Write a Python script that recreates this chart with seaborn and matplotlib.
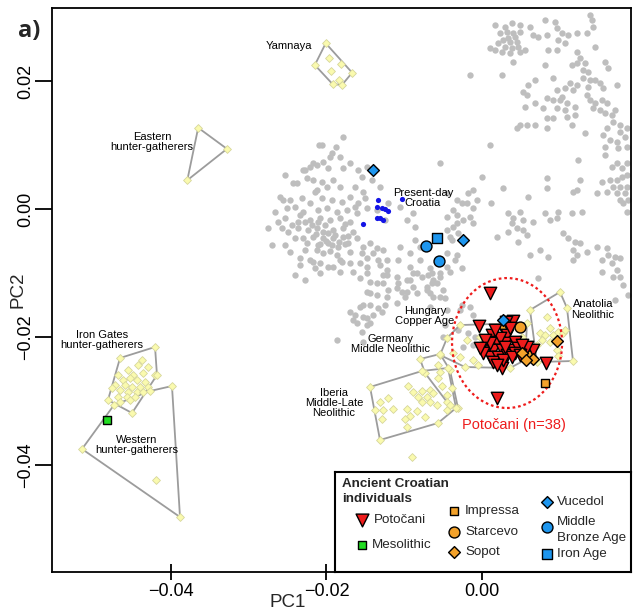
import numpy as np
import pandas as pd
import matplotlib
matplotlib.use("Agg")
import matplotlib.pyplot as plt
import seaborn as sns
from matplotlib.patches import Ellipse

# ---------------- data (PC1, PC2 values in units of 1e-3) ----------------
UNIT = 1e-3

modern_gray = [
(-19.55,8.13),(-20.45,7.34),(-21.22,6.88),(-22.12,6.56),(-23.02,6.09),(-19.80,6.41),(-18.26,8.13),(-25.33,5.31),(-23.79,4.06),(-22.51,4.84),(-20.58,4.22),(-19.16,4.53),(-19.93,3.44),(-18.26,3.44),(-21.48,2.66),(-25.98,1.88),(-24.69,1.41),(-23.15,1.72),(-22.12,0.94),(-20.58,1.72),(-19.29,1.41),(-18.00,1.09),(-16.98,1.88),(-15.95,0.94),(-26.62,-0.47),(-25.08,0.16),(-24.05,0.31),(-23.02,-0.47),(-21.09,-0.16),(-19.93,0.16),(-18.65,-0.47),(-17.36,-0.16),(-16.08,-0.63),(-15.05,1.72),(-14.79,0.16),(-25.33,-1.41),(-23.66,-2.03),(-22.12,-1.72),(-20.83,-1.41),(-19.55,-1.72),(-18.26,-1.41),(-16.98,-2.03),(-22.38,-3.28),(-21.22,-2.97),(-20.45,-3.59),(-19.16,-3.28),(-17.88,-2.97),(-16.59,-3.59),(-21.73,-4.38),(-20.45,-4.53),(-19.16,-4.53),(-17.88,-4.38),(-22.51,-5.31),(-21.09,-5.63),(-19.80,-5.31),(-18.52,-5.94),(-17.23,-5.31),(-16.08,-4.53),(-15.30,-5.94),(-14.40,-5.31),(-13.50,-6.09),(-22.76,-6.41),(-20.45,-6.88),(-18.65,-7.19),(-16.98,-6.72),(-15.43,-6.88),(-14.02,-6.88),(-12.73,-6.41),(-20.83,-8.44),(-19.80,-9.06),(-18.26,-7.97),(-16.98,-8.44),(-15.69,-8.44),(-14.79,-9.06),(-13.37,-7.97),(-12.22,-7.97),(-20.83,-10.0),(-18.26,-9.84),(-16.59,-9.84),(-14.79,-10.0),(-13.12,-8.75),(-12.73,-10.31),(-15.69,-10.78),(-14.40,-11.41),(-12.73,-11.56),(-10.93,-10.63),(-9.65,-11.09),(-8.87,-10.0),(-7.72,-10.63),(-6.69,-9.22),(-5.40,-10.0),(-7.07,-12.19),(-5.79,-11.56),(-10.93,-12.34),(-9.65,-12.97),(-8.36,-13.13),(-14.79,-12.97),(-13.50,-13.44),(-12.22,-13.75),(-15.69,-15.31),(-14.40,-15.0),(-13.37,-15.47),(-16.33,-16.56),(-15.30,-16.88),(-14.02,-16.56),(-16.08,-17.81),(-14.79,-18.13),(-10.93,-14.69),
(-17.88,11.25),(-20.58,10.0),(-18.78,9.69),(-19.29,8.75),(-22.76,6.09),(-21.73,7.19),(-17.88,6.41),(-16.98,7.19),(-15.95,6.09),(-14.79,6.56),(-15.43,5.0),(-14.15,4.53),(-13.12,3.44),(-16.33,3.44),(-15.30,2.66),(-16.33,0.31),(-13.50,-0.16),(-12.09,0.94),(-12.47,-1.72),(-10.55,0.31),(-9.65,-1.72),(-8.87,-0.63),(-8.62,-2.81),(-5.40,7.19),(-4.50,2.50),(-3.22,1.41),(-1.93,0.94),(-0.64,1.41),(-3.73,-0.16),(-3.22,-0.94),(-2.44,-1.72),(-1.54,-1.25),(-4.50,-1.25),(-3.73,-2.81),(-3.09,-3.75),(0.0,5.0),(1.03,10.0),(-1.16,2.97),(1.16,0.94),(1.93,-4.38),(-10.55,-5.94),(-9.26,-6.88),(-8.62,-4.84),(-7.97,-5.94),(-10.80,-7.97),(-9.26,-9.06),(-8.36,-10.0),(-6.43,-10.0),(-4.50,-6.88),(-3.47,-7.97),(-21.73,-8.28),(-19.16,-9.06),(-18.00,-8.28),(-14.79,-7.66),(-12.22,-9.53),(-4.50,-3.28),(-4.12,-4.38),(-1.16,-2.19),
(-20.96,10.0),(-24.31,4.06),(-21.73,4.53),(-25.59,1.41),(-21.22,2.97),
(-21.86,-2.50),(-21.09,-2.03),(-20.19,-2.50),(-17.62,-2.34),(-21.35,-3.91),(-19.80,-3.75),(-18.90,-4.06),(-17.23,-4.22),(-20.83,-5.47),(-20.06,-5.0),(-19.29,-5.63),(-18.39,-5.16),(-17.62,-5.47),(-21.22,-6.41),(-19.55,-6.56),(-23.02,-4.53),(-23.66,-2.97),(-22.76,-2.03),(-23.41,-0.94),(-24.43,-2.50),(-24.05,-4.53),(-24.95,-3.59),(-25.72,-2.97),(-26.23,-2.03),(-25.33,-5.63),(-24.69,-6.72),(-23.41,-7.66),(-22.12,-7.97),(-21.48,-9.22),(-23.41,-8.75),(-27.52,-2.97),(-27.01,-5.63),(-24.05,-10.31),(-22.76,-11.09),
(-12.22,-10.31),(-13.50,-11.56),(-10.80,-11.56),(-9.26,-11.09),(-6.95,-10.31),(-6.43,-11.56),(-12.09,-12.66),(-10.29,-12.97),(-8.87,-12.19),(-14.40,-13.13),(-9.90,-13.75),(-6.69,-13.13),(-5.02,-12.66),(-4.76,-13.91),(-16.98,-16.09),(-14.79,-17.03),(-16.59,-17.34),(-15.43,-19.22),(-14.40,-17.81),(-15.30,-15.0),(-12.86,-16.09),(-12.47,-15.0),(-18.65,-20.47),(-15.30,-20.78),(-4.76,-18.13),(-5.02,-20.0),(-6.69,-15.31),(-4.50,-15.78),(-2.57,-15.0),
(1.67,28.75),(2.96,28.44),(3.86,29.06),(4.89,28.75),(6.17,28.44),(2.31,27.5),(3.22,27.66),(3.99,27.5),(4.89,27.66),(3.34,26.72),(4.24,26.88),(2.70,26.41),(3.60,26.09),(4.50,26.09),(2.06,25.94),(1.03,25.16),(1.67,24.84),(2.96,25.31),(3.86,25.16),(4.63,25.31),(2.57,24.53),(3.60,24.38),(4.89,24.53),(5.53,24.84),(6.56,27.19),(7.20,26.88),(8.36,27.19),(8.10,29.53),(9.39,29.22),(9.65,28.28),(10.29,27.5),(11.06,27.19),(12.22,27.5),(13.50,27.5),(13.89,30.31),(14.15,29.53),(14.27,28.44),(9.77,26.41),(10.67,25.94),(8.49,24.84),(9.65,24.84),(3.99,22.97),(8.10,22.5),(12.22,24.53),(12.60,23.59),(14.53,25.31),(11.57,22.5),(12.22,22.81),(13.25,22.81),(12.99,21.72),(13.63,21.41),(15.82,22.97),(16.20,22.03),(-1.54,20.94),(2.57,20.94),(9.13,20.47),(6.82,20.16),(5.92,19.38),(5.27,18.28),(11.32,19.69),(12.22,19.38),(11.70,18.59),(10.67,18.91),(9.65,18.59),(10.29,17.5),(12.99,20.47),(13.89,20.16),(14.53,20.16),(15.17,19.69),(13.63,19.06),(15.56,18.91),(17.36,19.38),(5.79,17.81),(6.82,16.56),(8.36,17.34),(9.13,17.03),(10.03,17.03),(10.93,16.56),(5.53,15.94),(7.84,15.78),(9.65,15.78),(10.67,15.47),(11.96,15.94),(11.96,14.69),(10.93,14.38),(13.50,17.81),(13.89,17.03),(14.53,16.56),(15.43,17.03),(16.08,16.56),(14.27,15.78),(15.17,15.47),(15.82,15.0),(16.72,14.69),(17.10,15.47),(8.36,14.22),(9.13,14.22),(4.89,13.13),(4.50,12.66),(5.79,13.13),(6.82,13.13),(8.36,12.66),(11.57,13.13),(17.75,13.13),(18.65,12.66),(16.85,13.59),(16.08,12.66),(17.75,12.03),(13.25,11.88),(15.56,11.56),(16.46,10.78),(17.36,10.47),(18.39,11.25),(15.82,9.69),(17.49,9.53),(18.65,9.69),(12.35,7.66),(15.82,8.44),(16.72,6.56),(17.36,7.19),(18.00,6.41),(18.65,7.19),(15.43,4.22),(16.46,4.53),(17.36,4.53),(18.00,5.0),(18.65,5.31),(16.85,3.44),(17.75,3.44),(18.65,3.44),(16.08,2.66),(17.36,2.50),(18.39,2.50),(18.78,1.41),(17.75,1.41),(2.70,3.28),(-1.80,2.50),(8.36,4.84),(8.36,3.28),(12.60,4.53),(12.22,2.97),(11.70,2.66),(14.79,2.50),
(-2.57,0.94),(-1.16,0.16),(18.13,0.94),(18.65,-0.47),(5.92,1.88),(9.77,-0.47),(11.57,-0.63),(12.86,-0.47),(3.34,-0.63),(4.89,-0.47),(3.99,-1.41),(5.27,-1.72),(3.86,-2.19),(4.50,-2.97),(5.27,-3.28),(5.79,-4.06),(4.63,-5.16),(3.34,-3.59),(6.56,-2.03),(8.10,-0.63),(8.74,-1.72),(9.65,-1.41),(10.42,-3.75),(11.06,-4.53),(11.96,-5.16),(12.60,-5.31),(13.50,-6.72),(14.79,-5.94),(16.08,-6.09),(16.20,-7.19),(17.10,-7.50),(17.75,-7.66),(16.72,-8.44),(15.43,-7.97),(17.36,-9.53),(17.75,-10.63),(18.13,-11.88),(7.46,-6.41),(6.17,-7.19),(8.49,-7.50),(11.70,-6.41),(12.22,-7.19),(11.70,-7.97),(-3.22,-2.19),(-3.86,-4.84),(-3.22,-7.19),(-2.57,-9.22),(-4.50,-9.06),(-5.40,-10.63),(-6.30,-11.09),(-7.97,-7.97),(-7.07,-12.66),(-6.30,-13.75),(-5.40,-13.75),
(-2.83,-15.78),(-1.54,-15.31),(-1.16,-16.56),(-3.09,-18.91),(-1.80,-19.38),(-0.90,-20.0),(-1.16,-21.25),(-2.44,-21.56),(-4.12,-9.84),(7.20,-10.78),(15.43,-9.84),(16.85,-10.63),(18.78,-13.44),(17.10,-14.22),
]

present_day_croatia = [(-13.37,1.41),(-13.50,0.31),(-12.86,0.16),(-12.47,0.0),(-12.09,-0.31),
                       (-13.50,-1.41),(-13.12,-1.41),(-12.73,-1.72),(-15.30,-2.34),(-10.29,1.56)]

# reference ancient populations (pale yellow diamonds, with hulls)
yamnaya = [(-20.1,25.9),(-21.5,22.5),(-19.7,23.6),(-18.1,22.7),(-19.4,21.6),(-16.7,21.3),(-19.2,19.5),(-18.4,20.2),(-18.0,19.4)]
eastern_hg = [(-36.5,12.7),(-32.8,9.4),(-37.9,4.5)]
iron_gates_hg = [(-42.05,-21.56),(-46.55,-23.28),(-43.72,-23.59),(-44.24,-24.38),(-42.95,-24.69),(-45.52,-25.16),(-46.81,-25.94),(-44.88,-25.94),(-43.60,-25.63),(-42.05,-25.94),(-46.17,-26.72),(-45.27,-26.41),(-44.37,-26.72),(-43.34,-27.03),(-47.20,-27.5),(-45.91,-27.5),(-45.01,-27.81),(-43.98,-27.81),(-42.95,-27.81),(-47.58,-27.97),(-46.55,-28.28),(-45.52,-28.59),(-44.37,-28.59),(-43.60,-28.59),(-46.81,-29.38),(-45.65,-29.38),(-44.62,-29.38),(-48.10,-29.84),(-46.55,-30.16),(-45.27,-29.84),(-45.01,-31.88),(-41.80,-25.94)]
western_hg = [(-39.87,-27.66),(-38.84,-48.13),(-51.44,-37.5),(-41.93,-42.34),(-47.33,-30.63),(-42.70,-28.44)]
anatolia_n = [(10.03,-12.97),(10.93,-15.47),(6.17,-15.78),(8.36,-16.88),(7.46,-19.38),(8.74,-18.59),(8.10,-19.69),(9.13,-19.69),(7.72,-20.47),(8.74,-20.78),(9.77,-19.22),(10.42,-19.38),(9.65,-22.03),(11.70,-23.75),(7.07,-21.25),(9.77,-22.97),(10.67,-18.91),(7.07,-23.91)]
hungary_ca = [(-2.83,-18.13),(5.79,-17.81),(5.14,-20.0),(-0.26,-20.0),(-1.93,-20.47),(-3.73,-22.5),(-2.83,-23.13),(-1.16,-23.59),(-0.51,-24.38),(-2.19,-24.69),(-4.50,-20.16),(-5.40,-22.81),(3.60,-24.84),(5.53,-23.59)]
germany_mn = [(-7.97,-23.44),(-5.40,-22.66),(-4.12,-25.16),(-3.09,-31.09),(-7.33,-25.63),(-5.66,-24.38),(-5.40,-25.47),(-5.66,-26.41),(-4.50,-29.06),(-3.86,-27.97),(-5.14,-27.66),(-4.50,-30.16)]
iberia_mln = [(-14.40,-27.81),(-13.12,-30.16),(-12.09,-29.53),(-13.76,-31.41),(-12.73,-31.41),(-11.45,-31.25),(-12.86,-32.81),(-9.65,-31.25),(-8.36,-31.56),(-9.26,-32.34),(-9.90,-32.81),(-9.65,-34.06),(-7.33,-32.5),(-9.52,-27.66),(-8.87,-28.59),(-7.72,-28.44),(-8.23,-29.38),(-6.69,-28.28),(-7.07,-29.38),(-6.30,-28.75),(-7.72,-30.16),(-6.69,-30.16),(-5.79,-30.63),(-4.50,-31.41),(-4.12,-30.63),(-5.66,-33.44),(-7.72,-25.31),(-13.12,-36.09),(-4.37,-24.84),(-3.34,-31.09)]
other_ref = [(-9.00,-38.75)]

# ancient Croatian individuals
potocani = [(1.03,-13.13),(-0.39,-18.28),(3.99,-17.5),(6.56,-22.03),(8.23,-24.06),(2.57,-24.84),(1.93,-29.53),(3.09,-17.66),(1.29,-19.69),(3.22,-19.69),(1.93,-20.78),(2.96,-20.94),(4.24,-20.78),(0.64,-21.72),(1.41,-22.03),(2.57,-22.03),(3.60,-22.03),(4.63,-21.72),(1.03,-23.13),(2.06,-23.13),(3.22,-22.81),(4.24,-22.5),(1.41,-23.91),(2.70,-23.59),(5.53,-22.03),(5.79,-21.56),(0.13,-22.5),(3.86,-23.13),(1.03,-20.94),(2.31,-20.16),(5.14,-21.25),(1.67,-18.91),(3.60,-18.59),(0.39,-20.47),(2.96,-21.56),(4.89,-22.81),(1.93,-24.38),(-0.26,-21.72)]
mesolithic = [(-48.23,-32.97)]
impressa = [(8.10,-27.19)]
starcevo = [(2.96,-18.44),(4.89,-18.44),(6.04,-22.97)]
sopot = [(9.65,-20.63),(5.14,-22.5),(6.56,-23.44),(5.66,-23.59)]
vucedol = [(-14.02,6.09),(-2.44,-4.84),(2.70,-17.34)]
middle_bronze_age = [(-7.20,-5.78),(-5.53,-8.13)]
iron_age = [(-5.79,-4.53)]

# annotation labels
label_texts = ['Yamnaya', 'Eastern\nhunter-gatherers', 'Present-day\nCroatia', 'Hungary\nCopper Age',
               'Germany\nMiddle Neolithic', 'Iberia\nMiddle-Late\nNeolithic', 'Anatolia\nNeolithic',
               'Iron Gates\nhunter-gatherers', 'Western\nhunter-gatherers']
label_x = [-24.82, -42.44, -7.59, -7.33, -11.83, -19.03, 14.27, -48.87, -44.37]
label_y = [25.47, 10.47, 1.72, -16.72, -21.09, -30.31, -15.70, -20.47, -36.88]

ellipse_center = (3.22, -20.94)
ellipse_size = (14.15, 20.3)
potocani_note = 'Potočani (n=38)'
potocani_note_xy = (4.12, -33.75)

xtick_vals = [-0.04, -0.02, 0.00]
xtick_labels = ['\u22120.04', '\u22120.02', '0.00']
ytick_vals = [-0.04, -0.02, 0.00, 0.02]
ytick_labels = ['\u22120.04', '\u22120.02', '0.00', '0.02']

legend_title = ['Ancient Croatian', 'individuals']
legend_labels = ['Potočani', 'Mesolithic', 'Impressa', 'Starcevo', 'Sopot', 'Vucedol', 'Middle\nBronze Age', 'Iron Age']

# ---------------- style ----------------
sns.set_theme(style='ticks')
plt.rcParams['font.family'] = ['Liberation Sans', 'DejaVu Sans']

RED = '#EE1C1C'
ORANGE = '#F3A22B'
BLUE = '#1E96EE'
GREEN = '#22DD22'
YFACE = '#FAFAAE'
YEDGE = '#D6D69C'
GRAY = '#BEBEBE'
HULL = '#9C9C9C'


def to_df(pts):
    a = np.asarray(pts, dtype=float) * UNIT
    return pd.DataFrame({'PC1': a[:, 0], 'PC2': a[:, 1]})


def convex_hull(points):
    pts = sorted(set(map(tuple, points)))
    if len(pts) < 3:
        return pts

    def cross(o, a, b):
        return (a[0] - o[0]) * (b[1] - o[1]) - (a[1] - o[1]) * (b[0] - o[0])
    lower, upper = [], []
    for p in pts:
        while len(lower) >= 2 and cross(lower[-2], lower[-1], p) <= 0:
            lower.pop()
        lower.append(p)
    for p in reversed(pts):
        while len(upper) >= 2 and cross(upper[-2], upper[-1], p) <= 0:
            upper.pop()
        upper.append(p)
    return lower[:-1] + upper[:-1]


fig = plt.figure(figsize=(6.39, 6.12), dpi=100)
ax = fig.add_axes([52 / 639, 40.5 / 612, 579 / 639, 563.5 / 612])
ax.set_xlim(-0.0553, 0.01916)
ax.set_ylim(-0.05664, 0.03141)

# modern background
g = to_df(modern_gray)
sns.scatterplot(data=g, x='PC1', y='PC2', color=GRAY, s=21, linewidth=0, ax=ax, zorder=1, legend=False)

# hulls + reference diamonds
ref_groups = [yamnaya, eastern_hg, iron_gates_hg, western_hg, anatolia_n, hungary_ca, germany_mn, iberia_mln]
for grp in ref_groups:
    h = convex_hull(grp)
    h = h + [h[0]]
    hd = to_df(h)
    ax.plot(hd['PC1'], hd['PC2'], color=HULL, lw=1.3, zorder=2, solid_joinstyle='round')
for grp in ref_groups + [other_ref]:
    sns.scatterplot(data=to_df(grp), x='PC1', y='PC2', marker='D', s=16, color=YFACE,
                    edgecolor=YEDGE, linewidth=0.6, ax=ax, zorder=3, legend=False)

# present-day Croatia
sns.scatterplot(data=to_df(present_day_croatia), x='PC1', y='PC2', color='#1414E6', s=14,
                linewidth=0, ax=ax, zorder=4, legend=False)

# ellipse
ell = Ellipse((ellipse_center[0] * UNIT, ellipse_center[1] * UNIT), ellipse_size[0] * UNIT,
              ellipse_size[1] * UNIT, fill=False, edgecolor=RED, lw=1.6, ls=(0, (1.2, 1.3)), zorder=4)
ax.add_patch(ell)

# ancient Croatian individuals
kw = dict(edgecolor='black', linewidth=1.0, ax=ax, legend=False)
sns.scatterplot(data=to_df(starcevo), x='PC1', y='PC2', marker='o', s=62, color=ORANGE, zorder=5, **kw)
sns.scatterplot(data=to_df(middle_bronze_age), x='PC1', y='PC2', marker='o', s=62, color=BLUE, zorder=5, **kw)
sns.scatterplot(data=to_df(iron_age), x='PC1', y='PC2', marker='s', s=44, color=BLUE, zorder=5, **kw)
sns.scatterplot(data=to_df(impressa), x='PC1', y='PC2', marker='s', s=40, color=ORANGE, zorder=5, **kw)
sns.scatterplot(data=to_df(mesolithic), x='PC1', y='PC2', marker='s', s=40, color=GREEN, zorder=5, **kw)
sns.scatterplot(data=to_df(vucedol[:2]), x='PC1', y='PC2', marker='D', s=36, color=BLUE, zorder=5, **kw)
sns.scatterplot(data=to_df(potocani), x='PC1', y='PC2', marker='v', s=80, color=RED, zorder=6, **kw)
sns.scatterplot(data=to_df(vucedol[2:]), x='PC1', y='PC2', marker='D', s=36, color=BLUE, zorder=7, **kw)
sns.scatterplot(data=to_df(sopot), x='PC1', y='PC2', marker='D', s=36, color=ORANGE, zorder=7, **kw)

# population labels
for t, x, y in zip(label_texts, label_x, label_y):
    ax.text(x * UNIT, y * UNIT, t, fontsize=8, ha='center', va='center', linespacing=1.05,
            color='black', zorder=8)
ax.text(potocani_note_xy[0] * UNIT, potocani_note_xy[1] * UNIT, potocani_note, color=RED,
        fontsize=10.5, ha='center', va='center', zorder=8)

# axes styling
for sp in ax.spines.values():
    sp.set_color('black')
    sp.set_linewidth(1.3)
ax.set_xticks(xtick_vals)
ax.set_xticklabels(xtick_labels, fontsize=13)
ax.set_yticks(ytick_vals)
ax.set_yticklabels(ytick_labels, fontsize=13, rotation=90, va='center')
ax.tick_params(axis='x', direction='inout', length=12, width=1.3, pad=2, colors='black')
ax.tick_params(axis='y', direction='out', length=12, width=1.3, pad=1, colors='black')
ax.set_xlabel('PC1', fontsize=13.5, va='center')
ax.xaxis.set_label_coords(236 / 579, -31 / 563.5)
ax.set_ylabel('PC2', fontsize=13.5, va='center')
ax.yaxis.set_label_coords(-34 / 579, 0.5)

fig.text(29 / 639, 1 - 31 / 612, 'a)', fontsize=17, fontweight='bold', ha='center', va='center',
         family=['Open Sans', 'DejaVu Sans'])

# ---------------- legend box ----------------
leg = ax.inset_axes([283 / 579, 0.0, 296 / 579, 99.5 / 563.5])
leg.set_zorder(20)
leg.set_xlim(0, 296)
leg.set_ylim(99.5, 0)
leg.set_xticks([])
leg.set_yticks([])
leg.set_facecolor('white')
for sp in leg.spines.values():
    sp.set_color('black')
    sp.set_linewidth(1.5)

leg.text(7.5, 12, legend_title[0], fontsize=9.6, fontweight='bold', ha='left', va='center')
leg.text(7.5, 27.3, legend_title[1], fontsize=9.6, fontweight='bold', ha='left', va='center')

leg_markers = ['v', 's', 's', 'o', 'D', 'D', 'o', 's']
leg_colors = [RED, GREEN, ORANGE, ORANGE, ORANGE, BLUE, BLUE, BLUE]
leg_sizes = [85, 40, 40, 62, 36, 36, 62, 44]
leg_mx = [27, 27, 119, 119, 119, 212, 212, 212]
leg_my = [48, 73, 39, 60, 80, 30, 55.3, 82]
leg_tx = [39, 37, 130, 130, 130, 222, 222, 222]
for lab, m, c, s, mx, my, tx in zip(legend_labels, leg_markers, leg_colors, leg_sizes, leg_mx, leg_my, leg_tx):
    leg.scatter([mx], [my], marker=m, s=s, color=c, edgecolor='black', linewidth=1.0, zorder=3)
    lines = lab.split('\n')
    if len(lines) == 1:
        leg.text(tx, my, lab, fontsize=9.6, ha='left', va='center')
    else:
        leg.text(tx, my - 5.6, lines[0], fontsize=9.6, ha='left', va='center')
        leg.text(tx, my + 11, lines[1], fontsize=9.6, ha='left', va='center')

fig.savefig('out.png', dpi=100)
